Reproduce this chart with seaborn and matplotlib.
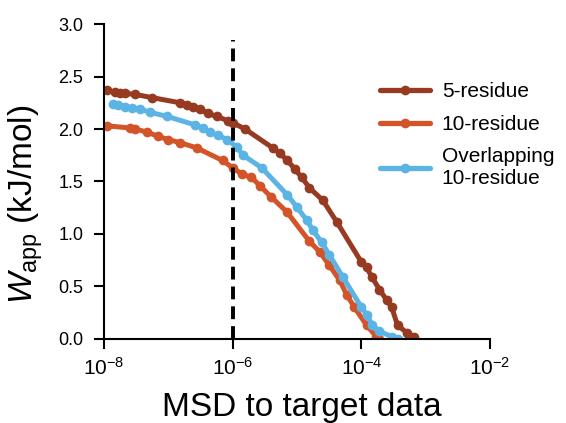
import numpy as np
import pandas as pd
import seaborn as sns
import matplotlib.pyplot as plt
from matplotlib.ticker import NullLocator

# log10(MSD) and W_app (kJ/mol)
res5_logx = [-7.95, -7.83, -7.75, -7.67, -7.52, -7.26, -6.82, -6.71, -6.62, -6.51,
             -6.39, -6.25, -6.08, -6.00, -5.81, -5.38, -5.27, -5.15, -5.04, -4.93,
             -4.81, -4.60, -4.38, -4.00, -3.92, -3.84, -3.72, -3.61, -3.53, -3.44,
             -3.30, -3.18]
res5_w = [2.37, 2.35, 2.34, 2.34, 2.33, 2.30, 2.25, 2.23, 2.21, 2.19,
          2.15, 2.12, 2.08, 2.06, 2.00, 1.82, 1.77, 1.70, 1.62, 1.54,
          1.44, 1.32, 1.11, 0.73, 0.68, 0.59, 0.47, 0.37, 0.30, 0.13,
          0.06, 0.02]

res10_logx = [-7.95, -7.60, -7.52, -7.33, -7.16, -7.01, -6.82, -6.56, -6.16, -6.00,
              -5.86, -5.71, -5.58, -5.40, -5.16, -4.81, -4.65, -4.50, -4.34, -4.23,
              -4.11, -3.92, -3.77, -3.72]
res10_w = [2.03, 2.01, 2.00, 1.97, 1.93, 1.90, 1.87, 1.82, 1.70, 1.63,
           1.57, 1.54, 1.46, 1.35, 1.21, 0.93, 0.83, 0.70, 0.56, 0.42,
           0.30, 0.13, 0.02, 0.0]

ovl_logx = [-7.86, -7.78, -7.67, -7.57, -7.44, -7.29, -7.02, -6.59, -6.47, -6.36,
            -6.23, -6.09, -5.94, -5.84, -5.55, -5.15, -5.01, -4.85, -4.76, -4.62,
            -4.50, -4.29, -4.00, -3.92, -3.83, -3.72, -3.52, -3.44]
ovl_w = [2.24, 2.23, 2.21, 2.20, 2.19, 2.16, 2.12, 2.04, 2.01, 1.97,
         1.94, 1.90, 1.83, 1.75, 1.63, 1.37, 1.26, 1.13, 1.04, 0.92,
         0.80, 0.59, 0.30, 0.23, 0.13, 0.07, 0.02, 0.0]

labels = ["5-residue", "10-residue", "Overlapping\n10-residue"]
colors = ["#963a22", "#d4542a", "#5cb4e4"]

frames = []
for lab, lx, w in zip(labels, [res5_logx, res10_logx, ovl_logx], [res5_w, res10_w, ovl_w]):
    frames.append(pd.DataFrame({"msd": 10.0 ** np.array(lx), "w": w, "set": lab}))
df = pd.concat(frames, ignore_index=True)

sns.set_style("ticks")
plt.rcParams["font.family"] = ["Liberation Sans", "DejaVu Sans"]
plt.rcParams["mathtext.fontset"] = "custom"
plt.rcParams["mathtext.rm"] = "Liberation Sans"
plt.rcParams["mathtext.it"] = "Liberation Sans:italic"
for k in ["text.color", "axes.labelcolor", "xtick.color", "ytick.color", "axes.edgecolor"]:
    plt.rcParams[k] = "black"

fig = plt.figure(figsize=(5.66, 4.23), dpi=100)
ax = fig.add_axes([0.184, 0.199, 0.682, 0.744])

sns.lineplot(data=df, x="msd", y="w", hue="set", hue_order=labels,
             palette=colors, marker="o", markersize=7, markeredgewidth=0,
             linewidth=3.6, sort=False, ax=ax)

ax.axvline(1e-6, ymin=0, ymax=2.85 / 3.0, color="black", linestyle=(0, (3.3, 1.8)),
           linewidth=2.8, zorder=5)

ax.set_xscale("log")
ax.set_xlim(1e-8, 1e-2)
ax.set_ylim(0, 3.0)
ax.set_xticks([1e-8, 1e-6, 1e-4, 1e-2])
ax.xaxis.set_minor_locator(NullLocator())
ax.set_yticks([0, 0.5, 1.0, 1.5, 2.0, 2.5, 3.0])
ax.set_yticklabels(["0.0", "0.5", "1.0", "1.5", "2.0", "2.5", "3.0"])

ax.tick_params(axis="both", direction="out", length=7, width=1.5)
ax.tick_params(axis="y", labelsize=13, pad=8)
ax.tick_params(axis="x", labelsize=15, pad=6)
for s in ["left", "bottom"]:
    ax.spines[s].set_linewidth(1.5)
sns.despine(ax=ax)

ax.set_xlabel("MSD to target data", fontsize=24)
ax.xaxis.set_label_coords(0.513, -0.168)
ax.set_ylabel(r"$W_{\mathrm{app}}$ (kJ/mol)", fontsize=24)
ax.yaxis.set_label_coords(-0.153, 0.426)

leg = ax.legend(loc="upper left", bbox_to_anchor=(0.671, 0.805), bbox_transform=fig.transFigure,
                frameon=False, fontsize=15, handlelength=2.4, handletextpad=0.58,
                labelspacing=0.64, borderpad=0, borderaxespad=0)
for line in leg.get_lines():
    line.set_linewidth(3.8)

fig.savefig("out.png", dpi=100)
